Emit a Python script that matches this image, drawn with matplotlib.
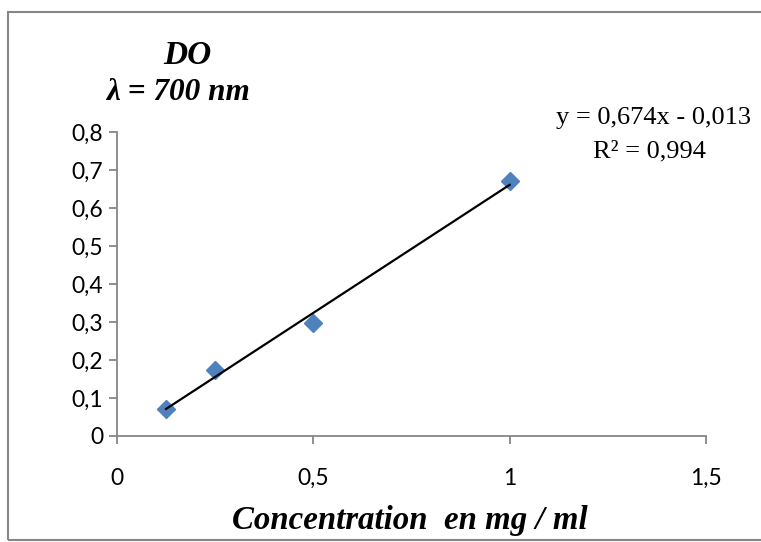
import matplotlib
matplotlib.use("Agg")
import matplotlib.pyplot as plt
from matplotlib.patches import Rectangle
import numpy as np

# Data
conc = [0.125, 0.25, 0.5, 1.0]
do_vals = [0.072, 0.174, 0.297, 0.671]
slope = 0.674
intercept = -0.013
xticks = [0, 0.5, 1, 1.5]
xticklabels = ["0", "0,5", "1", "1,5"]
yticks = [0, 0.1, 0.2, 0.3, 0.4, 0.5, 0.6, 0.7, 0.8]
yticklabels = ["0", "0,1", "0,2", "0,3", "0,4", "0,5", "0,6", "0,7", "0,8"]

W, H = 761, 542
fig = plt.figure(figsize=(W / 100, H / 100), dpi=100)
ax = fig.add_axes([117 / W, (H - 436) / H, (706 - 117) / W, (436 - 132) / H])

grey = "#868686"
ax.plot(conc, do_vals, linestyle="none", marker="D", markersize=9.5,
        color="#4F81BD", markeredgecolor="#4F81BD", zorder=3)
xfit = np.array([min(conc), max(conc)])
ax.plot(xfit, slope * xfit + intercept, color="black", linewidth=1.6, zorder=4)

ax.set_xlim(0, 1.5)
ax.set_ylim(0, 0.8)
ax.set_xticks(xticks)
ax.set_xticklabels(xticklabels)
ax.set_yticks(yticks)
ax.set_yticklabels(yticklabels)
for s in ["top", "right"]:
    ax.spines[s].set_visible(False)
for s in ["left", "bottom"]:
    ax.spines[s].set_color(grey)
    ax.spines[s].set_linewidth(1.3)
ax.tick_params(axis="both", direction="out", color=grey, width=1.3, length=6,
               labelsize=16.5)
for lab in ax.get_xticklabels() + ax.get_yticklabels():
    lab.set_fontfamily("Lato")
ax.tick_params(axis="y", pad=4)
ax.tick_params(axis="x", pad=17)

serif = "Liberation Serif"
fig.text(187 / W, 1 - 56 / H, "DO", fontfamily=serif, fontweight="bold",
         fontstyle="italic", fontsize=24, ha="center", va="center")
fig.text(178 / W, 1 - 93 / H, "λ = 700 nm", fontfamily=serif, fontweight="bold",
         fontstyle="italic", fontsize=22.5, ha="center", va="center")
fig.text(654 / W, 1 - 118 / H, "y = 0,674x - 0,013", fontfamily=serif,
         fontsize=19, ha="center", va="center")
fig.text(649 / W, 1 - 151 / H, "R² = 0,994", fontfamily=serif,
         fontsize=19, ha="center", va="center")
fig.text(410 / W, 1 - 521 / H, "Concentration  en mg / ml", fontfamily=serif,
         fontweight="bold", fontstyle="italic", fontsize=23.7, ha="center", va="center")

fig.patches.append(Rectangle((8 / W, 1 - 540 / H), (W + 10) / W, (540 - 12) / H,
                             transform=fig.transFigure, fill=False,
                             edgecolor=grey, linewidth=1.5))

fig.savefig("out.png", dpi=100)
